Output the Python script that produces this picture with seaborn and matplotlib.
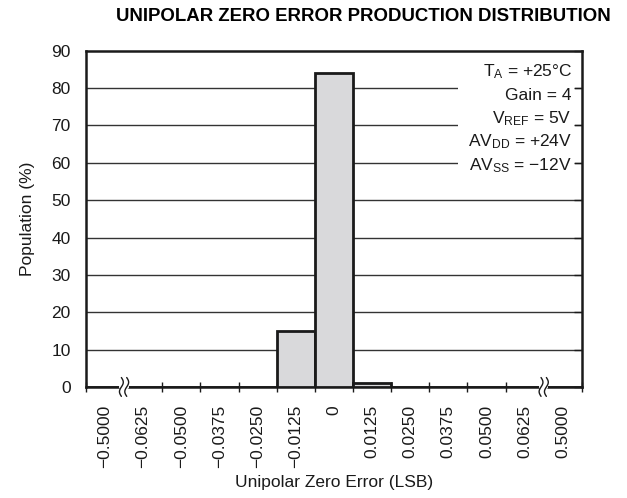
import numpy as np
import pandas as pd
import matplotlib
matplotlib.use("Agg")
import matplotlib.pyplot as plt
import matplotlib.transforms as mtransforms
from matplotlib.patches import Rectangle
import seaborn as sns

# Histogram bins (LSB) and population share per bin (%)
bin_labels = ["\u22120.5000", "\u22120.0625", "\u22120.0500", "\u22120.0375", "\u22120.0250",
              "\u22120.0125", "0", "0.0125", "0.0250", "0.0375", "0.0500", "0.0625", "0.5000"]
population = [0, 0, 0, 0, 0, 15, 84, 1, 0, 0, 0, 0, 0]
y_ticks = [0, 10, 20, 30, 40, 50, 60, 70, 80, 90]
conditions = ["T$_{\\mathregular{A}}$ = +25°C",
              "Gain = 4",
              "V$_{\\mathregular{REF}}$ = 5V",
              "AV$_{\\mathregular{DD}}$ = +24V",
              "AV$_{\\mathregular{SS}}$ = \u221212V"]

sns.set_theme(style="white")
plt.rcParams["font.family"] = ["Liberation Sans", "DejaVu Sans"]
plt.rcParams["mathtext.default"] = "regular"

df = pd.DataFrame({"bin": bin_labels, "pct": population})

fig = plt.figure(figsize=(6.27, 4.98), dpi=100)
ax = fig.add_axes([0.137, 0.223, 0.791, 0.675])

ink = "#1a1a1a"
fs = 12.5
sns.barplot(data=df, x="bin", y="pct", order=bin_labels, color="#d9d9db",
            saturation=1, width=1.0, edgecolor=ink, linewidth=2.0, ax=ax, zorder=3)

ax.set_xlim(-0.5, len(bin_labels) - 0.5)
ax.set_ylim(0, 90)

# horizontal grid
for yv in y_ticks[1:-1]:
    ax.axhline(yv, color="#333333", lw=1.0, zorder=0.2)

# white panel behind the test-condition notes
ax.add_patch(Rectangle((0.75, 0.6), 0.236, 0.39, transform=ax.transAxes,
                       facecolor="white", edgecolor="none", zorder=0.6))
for i, line in enumerate(conditions):
    ax.text(0.98, 0.937 - i * 0.0694, line, transform=ax.transAxes, ha="right",
            va="center", fontsize=fs, color=ink, zorder=4)

for s in ax.spines.values():
    s.set_color(ink)
    s.set_linewidth(1.8)
    s.set_visible(True)

ax.set_axisbelow(False)
ax.set_yticks(y_ticks)
ax.tick_params(axis="y", left=False, right=True, direction="in", length=6,
               width=1.0, color=ink, labelsize=fs, labelcolor=ink, pad=11)

# x: labels at bin centres, tick marks at bin edges (except at axis breaks)
ax.set_xticks(range(len(bin_labels)))
ax.set_xticklabels(bin_labels, rotation=90)
ax.tick_params(axis="x", bottom=False, labelsize=fs, labelcolor=ink, pad=7)
edges = [e - 0.5 for e in range(len(bin_labels) + 1) if e not in (1, len(bin_labels) - 1)]
ax.set_xticks(edges, minor=True)
ax.tick_params(axis="x", which="minor", bottom=True, direction="inout",
               length=7, width=1.0, color=ink)

# axis-break marks
trans = mtransforms.blended_transform_factory(ax.transData, ax.transAxes)
t = np.linspace(-1, 1, 40)
for xc in (0.5, len(bin_labels) - 1.5):
    ax.plot([xc - 0.07, xc + 0.07], [0, 0], transform=trans, color="white",
            lw=3, clip_on=False, zorder=5)
    for dx in (-0.07, 0.07):
        ax.plot(xc + dx + 0.05 * np.sin(np.pi * t), 0.028 * t, transform=trans,
                color=ink, lw=1.0, clip_on=False, zorder=6)

ax.set_xlabel("Unipolar Zero Error (LSB)", fontsize=fs, color=ink, labelpad=5)
ax.set_ylabel("Population (%)", fontsize=fs, color=ink, labelpad=12)

fig.text(0.58, 0.967, "UNIPOLAR ZERO ERROR PRODUCTION DISTRIBUTION",
         ha="center", va="center", fontsize=13.4, fontweight="bold", color="black")

fig.savefig("out.png", dpi=100, facecolor="white")
